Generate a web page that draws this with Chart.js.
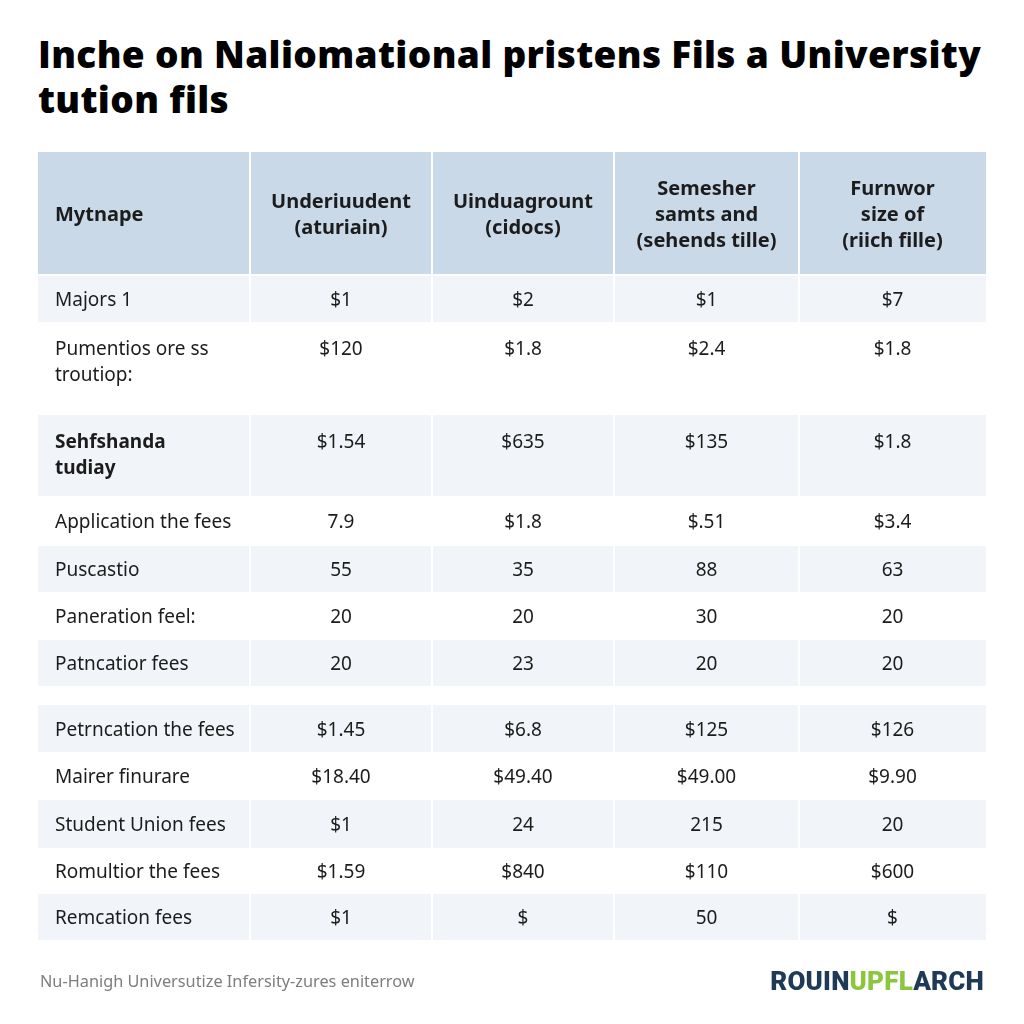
<!DOCTYPE html>
<html lang="en">
<head>
<meta charset="UTF-8">
<title>University tuition fees</title>
<script src="https://cdn.jsdelivr.net/npm/chart.js"></script>
<style>
    html, body { margin: 0; padding: 0; background: #fff; }
    body { width: 1024px; height: 1024px; position: relative; overflow: hidden; font-family: "Noto Sans", sans-serif; }
    #title {
        position: absolute; left: 38px; top: 31px;
        font-family: "Open Sans", sans-serif; font-weight: 800; font-size: 37px; line-height: 45px;
        color: #000; margin: 0; letter-spacing: 0.35px; font-variant-ligatures: none;
    }
    #feesChart { position: absolute; left: 0; top: 0; }
    #source {
        position: absolute; left: 40px; top: 970px;
        font-size: 16.3px; color: #7d7d7d;
    }
    #logo {
        position: absolute; right: 40px; top: 966px;
        font-family: Roboto, sans-serif; font-weight: 900; font-size: 26px; color: #1f3a56; letter-spacing: 0.2px;
    }
    #logo span { color: #8cc63f; }
</style>
</head>
<body>
    <h1 id="title">Inche on Naliomational pristens Fils a University<br>tution fils</h1>
    <canvas id="feesChart" width="1024" height="1024"></canvas>
    <div id="source">Nu-Hanigh Universutize Infersity-zures eniterrow</div>
    <div id="logo">ROUIN<span>UPFL</span>ARCH</div>

<script>
// table content
const columnHeaders = [
    ['Mytnape'],
    ['Underiuudent', '(aturiain)'],
    ['Uinduagrount', '(cidocs)'],
    ['Semesher', 'samts and', '(sehends tille)'],
    ['Furnwor', 'size of', '(riich fille)']
];
const rowLabels = [
    ['Majors 1'],
    ['Pumentios ore ss', 'troutiop:'],
    ['Sehfshanda', 'tudiay'],
    ['Application the fees'],
    ['Puscastio'],
    ['Paneration feel:'],
    ['Patncatior fees'],
    ['Petrncation the fees'],
    ['Mairer finurare'],
    ['Student Union fees'],
    ['Romultior the fees'],
    ['Remcation fees']
];
const boldRows = [2];
const undergradStudent = ['$1', '$120', '$1.54', '7.9', '55', '20', '20', '$1.45', '$18.40', '$1', '$1.59', '$1'];
const undergradDocs    = ['$2', '$1.8', '$635', '$1.8', '35', '20', '23', '$6.8', '$49.40', '24', '$840', '$'];
const semesterSums     = ['$1', '$2.4', '$135', '$.51', '88', '30', '20', '$125', '$49.00', '215', '$110', '50'];
const furnworSize      = ['$7', '$1.8', '$1.8', '$3.4', '63', '20', '20', '$126', '$9.90', '20', '$600', '$'];
const valueColumns = [undergradStudent, undergradDocs, semesterSums, furnworSize];

// layout (table units, one unit per pixel of the table area)
const colWidths = [212, 182, 182, 185, 187];
const headerHeight = 122;
const headerGap = 2;
const bandHeights = [46, 93, 81, 50, 46, 48, 46, 19, 47, 48, 48, 46, 46];
const spacerBands = [7];
const lineGap = 26;

const headerColor = '#c9d9e8';
const stripeColor = '#f1f4f8';
const textColor = '#1c1c1c';

const colEdges = [0];
colWidths.forEach(w => colEdges.push(colEdges[colEdges.length - 1] + w));
const tableWidth = colEdges[colEdges.length - 1];

const bands = [{ from: 0, to: headerHeight, color: headerColor }];
let yPos = headerHeight + headerGap;
bandHeights.forEach((h, i) => {
    bands.push({ from: yPos, to: yPos + h, color: i % 2 === 0 ? stripeColor : '#ffffff' });
    yPos += h;
});
const tableHeight = yPos;
// bands that hold a data row (skip header and spacer)
const rowBands = bands.slice(1).filter((b, i) => !spacerBands.includes(i));

const tableText = {
    id: 'tableText',
    afterDatasetsDraw(chart) {
        const ctx = chart.ctx;
        const xs = chart.scales.x2;
        const ys = chart.scales.y;
        ctx.save();
        ctx.fillStyle = textColor;
        ctx.textBaseline = 'middle';

        const hMid = ys.getPixelForValue(headerHeight / 2) + 2;
        ctx.font = '700 20px "Noto Sans"';
        columnHeaders.forEach((lines, c) => {
            const n = lines.length;
            lines.forEach((t, k) => {
                const py = hMid + (k - (n - 1) / 2) * lineGap;
                if (c === 0) {
                    ctx.textAlign = 'left';
                    ctx.fillText(t, xs.getPixelForValue(colEdges[0]) + 17, py);
                } else {
                    ctx.textAlign = 'center';
                    ctx.fillText(t, xs.getPixelForValue((colEdges[c] + colEdges[c + 1]) / 2), py);
                }
            });
        });

        rowBands.forEach((b, r) => {
            const first = ys.getPixelForValue(b.from + Math.min((b.to - b.from) / 2, 26)) + 2;
            ctx.textAlign = 'left';
            ctx.font = (boldRows.includes(r) ? '700 ' : '400 ') + '19px "Noto Sans"';
            rowLabels[r].forEach((t, k) => {
                ctx.fillText(t, xs.getPixelForValue(colEdges[0]) + 17, first + k * lineGap);
            });
            ctx.textAlign = 'center';
            ctx.font = '400 19px "Noto Sans"';
            valueColumns.forEach((col, c) => {
                const cx = xs.getPixelForValue((colEdges[c + 1] + colEdges[c + 2]) / 2);
                ctx.fillText(col[r], cx, first);
            });
        });
        ctx.restore();
    }
};

const ctx = document.getElementById('feesChart').getContext('2d');
new Chart(ctx, {
    type: 'bar',
    data: {
        labels: ['table'],
        datasets: bands.map(b => ({
            data: [[b.from, b.to]],
            backgroundColor: b.color,
            borderWidth: 0,
            grouped: false,
            barPercentage: 1,
            categoryPercentage: 1,
            inflateAmount: 0
        }))
    },
    options: {
        responsive: false,
        animation: false,
        events: [],
        layout: { padding: { left: 38, right: 38, top: 152, bottom: 84 } },
        plugins: { legend: { display: false }, tooltip: { enabled: false } },
        scales: {
            x: { display: false },
            x2: {
                type: 'linear',
                position: 'bottom',
                min: 0,
                max: tableWidth,
                offset: false,
                afterBuildTicks: sc => { sc.ticks = colEdges.slice(1, -1).map(v => ({ value: v })); },
                ticks: { display: false },
                border: { display: false },
                grid: { color: '#ffffff', lineWidth: 2, drawTicks: false, offset: false, z: 1 }
            },
            y: { display: false, min: 0, max: tableHeight, reverse: true }
        }
    },
    plugins: [tableText]
});
</script>
</body>
</html>
